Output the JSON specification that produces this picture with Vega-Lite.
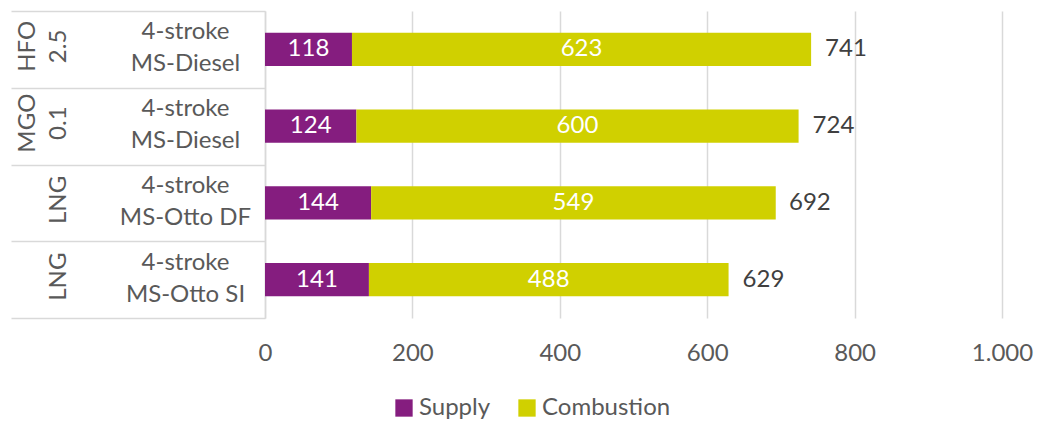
{
  "$schema": "https://vega.github.io/schema/vega-lite/v6.json",
  "width": 737,
  "height": 307,
  "padding": {"left": 10, "top": 10, "right": 2, "bottom": 0},
  "config": {"font": "Lato", "view": {"stroke": null}},
  "datasets": {
    "parts": [
      {"case": "HFO 2.5|4-stroke|MS-Diesel", "component": "Supply", "value": 118},
      {"case": "HFO 2.5|4-stroke|MS-Diesel", "component": "Combustion", "value": 623},
      {"case": "MGO 0.1|4-stroke|MS-Diesel", "component": "Supply", "value": 124},
      {"case": "MGO 0.1|4-stroke|MS-Diesel", "component": "Combustion", "value": 600},
      {"case": "LNG|4-stroke|MS-Otto DF", "component": "Supply", "value": 144},
      {"case": "LNG|4-stroke|MS-Otto DF", "component": "Combustion", "value": 549},
      {"case": "LNG|4-stroke|MS-Otto SI", "component": "Supply", "value": 141},
      {"case": "LNG|4-stroke|MS-Otto SI", "component": "Combustion", "value": 488}
    ],
    "totals": [
      {"case": "HFO 2.5|4-stroke|MS-Diesel", "total": 741},
      {"case": "MGO 0.1|4-stroke|MS-Diesel", "total": 724},
      {"case": "LNG|4-stroke|MS-Otto DF", "total": 692},
      {"case": "LNG|4-stroke|MS-Otto SI", "total": 629}
    ]
  },
  "layer": [
    {
      "data": {"name": "parts"},
      "mark": {"type": "bar", "height": {"band": 0.43}},
      "encoding": {
        "y": {
          "field": "case", "type": "nominal",
          "scale": {"domain": ["HFO 2.5|4-stroke|MS-Diesel", "MGO 0.1|4-stroke|MS-Diesel", "LNG|4-stroke|MS-Otto DF", "LNG|4-stroke|MS-Otto SI"], "paddingInner": 0, "paddingOuter": 0},
          "axis": {"orient": "left", "title": null, "labels": false, "ticks": true, "tickSize": 254, "tickBand": "extent", "tickColor": "#d9d9d9", "tickWidth": 1.5, "domain": true, "domainColor": "#d9d9d9", "domainWidth": 1.5, "grid": false}
        },
        "x": {
          "field": "value", "type": "quantitative", "stack": "zero",
          "scale": {"domain": [0, 1000]},
          "axis": {"title": null, "values": [0, 200, 400, 600, 800, 1000], "labelExpr": "replace(format(datum.value, ','), ',', '.')", "labelFlush": false, "domain": false, "ticks": false, "grid": true, "gridColor": "#d9d9d9", "gridWidth": 1.5, "labelFontSize": 24, "labelColor": "#595959", "labelPadding": 23}
        },
        "color": {
          "field": "component", "type": "nominal",
          "scale": {"domain": ["Supply", "Combustion"], "range": ["#851d7f", "#d0d000"]},
          "legend": {"orient": "none", "legendX": 127, "legendY": 385, "direction": "horizontal", "title": null, "symbolType": "square", "symbolSize": 300, "symbolStrokeWidth": 0, "labelFontSize": 24, "labelColor": "#595959", "columnPadding": 24, "padding": 0, "labelOffset": 3}
        },
        "order": {"field": "component", "type": "nominal", "sort": "descending"}
      }
    },
    {
      "data": {"name": "parts"},
      "mark": {"type": "text", "color": "white", "fontSize": 24, "align": "center", "baseline": "middle"},
      "encoding": {
        "y": {
          "field": "case", "type": "nominal",
          "axis": {"orient": "left", "title": null, "ticks": false, "domain": false, "grid": false, "labelExpr": "slice(split(datum.value, '|'), 1)", "labelAlign": "center", "labelBaseline": "middle", "labelPadding": 80, "labelOffset": -17, "labelFontSize": 24, "labelColor": "#595959", "labelLineHeight": 32, "labelLimit": 0}
        },
        "x": {"field": "value", "type": "quantitative", "stack": "zero", "bandPosition": 0.5, "title": null},
        "detail": {"field": "component", "type": "nominal"},
        "order": {"field": "component", "type": "nominal", "sort": "descending"},
        "text": {"field": "value", "type": "quantitative"}
      }
    },
    {
      "data": {"name": "totals"},
      "mark": {"type": "text", "color": "#404040", "fontSize": 24, "align": "left", "baseline": "middle", "dx": 14},
      "encoding": {
        "y": {
          "field": "case", "type": "nominal",
          "axis": {"orient": "left", "title": null, "ticks": false, "domain": false, "grid": false, "labelExpr": "length(split(split(datum.value, '|')[0], ' ')) > 1 ? split(split(datum.value, '|')[0], ' ') : ['', split(datum.value, '|')[0]]", "labelAngle": -90, "labelAlign": "center", "labelBaseline": "bottom", "labelPadding": 226, "labelOffset": -3, "labelFontSize": 24, "labelColor": "#595959", "labelLineHeight": 31, "labelLimit": 0}
        },
        "x": {"field": "total", "type": "quantitative", "title": null},
        "text": {"field": "total", "type": "quantitative"}
      }
    }
  ],
  "resolve": {"axis": {"y": "independent"}}
}
